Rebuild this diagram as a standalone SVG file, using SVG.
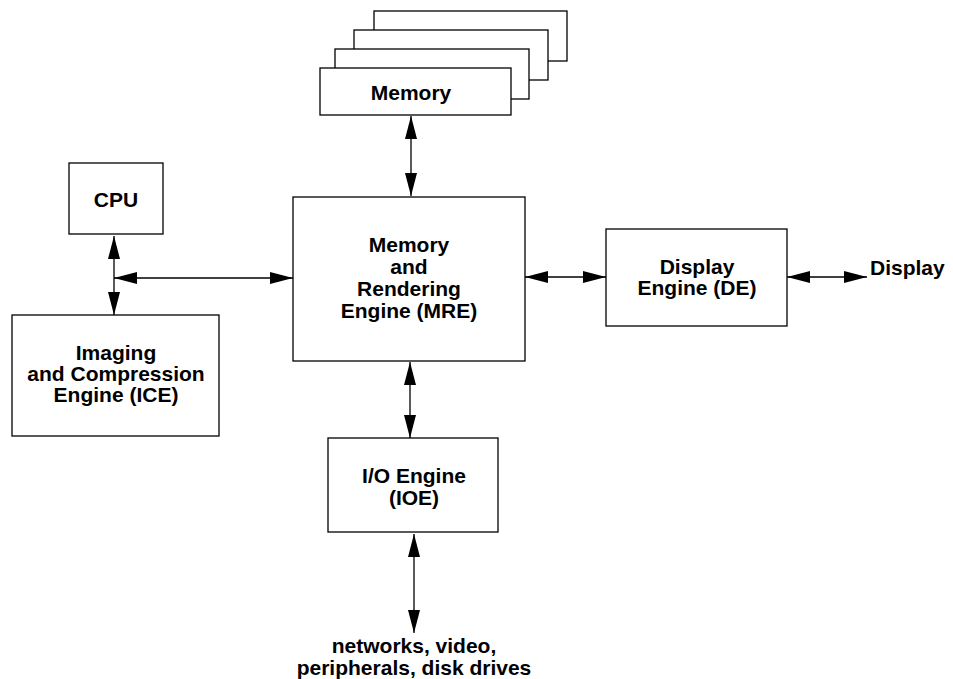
<svg xmlns="http://www.w3.org/2000/svg" width="953" height="679" viewBox="0 0 953 679">
  <style>
    .box { fill: #fff; stroke: #000; stroke-width: 1.3; }
    .lbl { font-family: "Liberation Sans", Arial, sans-serif; font-weight: bold; font-size: 21px; fill: #000; text-anchor: middle; }
    .link { stroke: #000; stroke-width: 1.3; fill: none; marker-start: url(#head); marker-end: url(#head); }
  </style>
  <defs>
    <marker id="head" markerUnits="userSpaceOnUse" markerWidth="24" markerHeight="13" refX="23" refY="6" orient="auto-start-reverse">
      <path d="M0,0 L23,6 L0,12 Z" fill="#000"/>
    </marker>
  </defs>
  <rect width="953" height="679" fill="#fff"/>

  <!-- Memory bank: stacked modules -->
  <g id="memory">
    <rect class="box" x="374" y="11" width="193" height="50"/>
    <rect class="box" x="354" y="30" width="194" height="50"/>
    <rect class="box" x="335" y="49" width="194" height="50"/>
    <rect class="box" x="320" y="68" width="191" height="47"/>
    <text class="lbl" x="411" y="100">Memory</text>
  </g>

  <g id="cpu">
    <rect class="box" x="69" y="163" width="94" height="71"/>
    <text class="lbl" x="116" y="207">CPU</text>
  </g>

  <g id="ice">
    <rect class="box" x="12" y="315" width="207" height="121"/>
    <text class="lbl" x="116" y="360">Imaging</text>
    <text class="lbl" x="116" y="381">and Compression</text>
    <text class="lbl" x="116" y="402">Engine (ICE)</text>
  </g>

  <g id="mre">
    <rect class="box" x="293" y="197" width="232" height="164"/>
    <text class="lbl" x="409" y="252">Memory</text>
    <text class="lbl" x="409" y="274">and</text>
    <text class="lbl" x="409" y="296">Rendering</text>
    <text class="lbl" x="409" y="318">Engine (MRE)</text>
  </g>

  <g id="de">
    <rect class="box" x="606" y="229" width="181" height="97"/>
    <text class="lbl" x="697" y="274">Display</text>
    <text class="lbl" x="697" y="295">Engine (DE)</text>
  </g>

  <g id="ioe">
    <rect class="box" x="328" y="438" width="170" height="94"/>
    <text class="lbl" x="414" y="483">I/O Engine</text>
    <text class="lbl" x="414" y="505">(IOE)</text>
  </g>

  <g id="display-out">
    <text class="lbl" x="870" y="275" style="text-anchor:start">Display</text>
  </g>

  <g id="external-io">
    <text class="lbl" x="414" y="653">networks, video,</text>
    <text class="lbl" x="414" y="675">peripherals, disk drives</text>
  </g>

  <!-- bidirectional links -->
  <g id="connectors">
    <line class="link" x1="411" y1="116" x2="411" y2="196"/>
    <line class="link" x1="114" y1="236" x2="114" y2="315"/>
    <line class="link" x1="114" y1="278" x2="293" y2="278"/>
    <line class="link" x1="525" y1="277" x2="606" y2="277"/>
    <line class="link" x1="787" y1="277" x2="867" y2="277"/>
    <line class="link" x1="410" y1="362" x2="410" y2="438"/>
    <line class="link" x1="414" y1="534" x2="414" y2="633"/>
  </g>
</svg>
